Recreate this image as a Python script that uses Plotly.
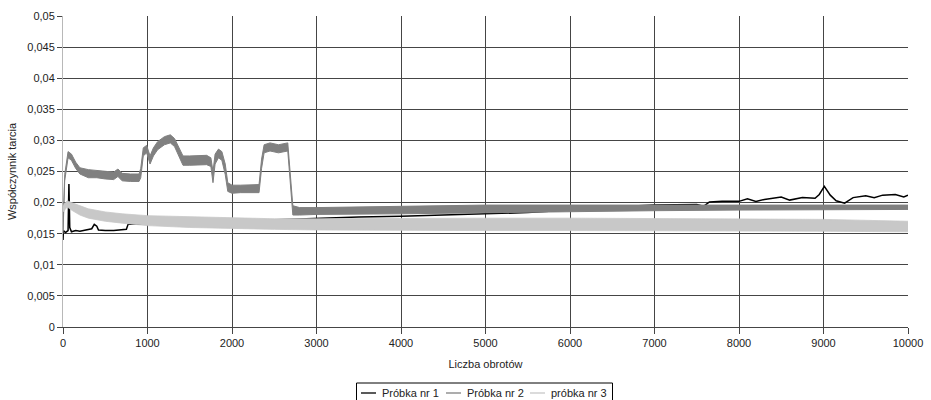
import plotly.graph_objects as go

# ---------------- data ----------------
# Próbka nr 1 (black line)
s1_x = [0, 5, 30, 60, 70, 80, 100, 150, 200, 250, 300, 340, 370, 400, 420, 500, 600, 700, 750, 770,
        900, 1000, 1200, 1400, 1600, 1800, 2000, 2200, 2500, 2800, 3000, 3500, 4000, 4500, 5000,
        5500, 6000, 6500, 7000, 7500, 7580, 7650, 7800, 8000, 8100, 8200, 8300, 8500, 8600, 8750,
        8900, 8950, 9010, 9080, 9150, 9250, 9350, 9500, 9600, 9700, 9850, 9950, 10000]
s1_y = [0.0140, 0.0155, 0.0152, 0.0155, 0.0230, 0.0160, 0.0153, 0.0155, 0.0154, 0.0155, 0.0156,
        0.0158, 0.0165, 0.0162, 0.0156, 0.0155, 0.0155, 0.0156, 0.0157, 0.0165,
        0.0165, 0.0166, 0.0166, 0.0167, 0.0167, 0.0169, 0.0170, 0.0170, 0.0172, 0.0174, 0.0175,
        0.0177, 0.0178, 0.0180, 0.0183, 0.0184, 0.0188, 0.0193, 0.0196, 0.0197, 0.0194, 0.0201,
        0.0202, 0.0202, 0.0206, 0.0202, 0.0205, 0.0209, 0.0204, 0.0208, 0.0207, 0.0213, 0.0226,
        0.0212, 0.0203, 0.0199, 0.0208, 0.0211, 0.0208, 0.0212, 0.0213, 0.0209, 0.0212]

# Próbka nr 2 (dark grey, noisy band: lower / upper edge)
s2_x = [0, 20, 60, 100, 150, 200, 300, 400, 500, 600, 650, 700, 800, 900, 920, 950, 990, 1030,
        1070, 1120, 1200, 1270, 1320, 1380, 1420, 1500, 1600, 1700, 1750, 1775, 1800, 1840, 1880,
        1920, 1950, 2000, 2100, 2200, 2320, 2350, 2380, 2450, 2550, 2660, 2690, 2720, 2800, 3000,
        4000, 5000, 6000, 7000, 8000, 9000, 10000]
s2_lo = [0.0150, 0.0235, 0.0272, 0.0268, 0.0255, 0.0246, 0.0240, 0.0240, 0.0238, 0.0237, 0.0242,
         0.0235, 0.0234, 0.0234, 0.0240, 0.0275, 0.0280, 0.0262, 0.0275, 0.0285, 0.0293, 0.0296,
         0.0290, 0.0272, 0.0260, 0.0260, 0.0261, 0.0261, 0.0258, 0.0232, 0.0262, 0.0272, 0.0268,
         0.0245, 0.0218, 0.0215, 0.0216, 0.0216, 0.0216, 0.0255, 0.0280, 0.0283, 0.0280, 0.0283,
         0.0230, 0.0180, 0.0180, 0.0181, 0.0182, 0.0184, 0.0186, 0.0187, 0.0188, 0.0189, 0.0189]
s2_hi = [0.0155, 0.0245, 0.0282, 0.0278, 0.0265, 0.0256, 0.0253, 0.0252, 0.0250, 0.0249, 0.0254,
         0.0247, 0.0246, 0.0246, 0.0255, 0.0288, 0.0292, 0.0275, 0.0288, 0.0298, 0.0306, 0.0309,
         0.0303, 0.0285, 0.0275, 0.0275, 0.0276, 0.0276, 0.0272, 0.0250, 0.0278, 0.0286, 0.0282,
         0.0262, 0.0232, 0.0228, 0.0228, 0.0228, 0.0229, 0.0270, 0.0293, 0.0296, 0.0293, 0.0296,
         0.0250, 0.0195, 0.0192, 0.0192, 0.0194, 0.0196, 0.0196, 0.0196, 0.0196, 0.0196, 0.0196]

# próbka nr 3 (light grey, noisy band: lower / upper edge)
s3_x = [0, 50, 100, 200, 300, 500, 700, 1000, 1500, 2000, 2500, 3000, 4000, 5000, 6000, 7000,
        8000, 9000, 10000]
s3_lo = [0.0185, 0.0193, 0.0188, 0.0180, 0.0175, 0.0170, 0.0167, 0.0163, 0.0160, 0.0158, 0.0157,
         0.0156, 0.0155, 0.0155, 0.0155, 0.0155, 0.0154, 0.0154, 0.0153]
s3_hi = [0.0195, 0.0203, 0.0200, 0.0195, 0.0190, 0.0185, 0.0182, 0.0179, 0.0177, 0.0175, 0.0174,
         0.0174, 0.0175, 0.0175, 0.0175, 0.0174, 0.0173, 0.0173, 0.0170]

series_names = ["Próbka nr 1", "Próbka nr 2", "próbka nr 3"]

x_ticks = [0, 1000, 2000, 3000, 4000, 5000, 6000, 7000, 8000, 9000, 10000]
x_ticklabels = ["0", "1000", "2000", "3000", "4000", "5000", "6000", "7000", "8000", "9000", "10000"]
y_ticks = [0, 0.005, 0.01, 0.015, 0.02, 0.025, 0.03, 0.035, 0.04, 0.045, 0.05]
y_ticklabels = ["0", "0,005", "0,01", "0,015", "0,02", "0,025", "0,03", "0,035", "0,04", "0,045", "0,05"]

x_title = "Liczba obrotów"
y_title = "Współczynnik tarcia"

# ---------------- figure ----------------
C1, C2, C3 = "#000000", "#808080", "#c8c8c8"
FONT = "Liberation Sans, Arial, sans-serif"
TXT = "#222222"

W, H = 931, 400
ML, MR, MT, MB = 63, 23, 16, 73
PW, PH = W - ML - MR, H - MT - MB


def px_x(px):
    return (px - ML) / PW


def px_y(py):
    return (H - MB - py) / PH


fig = go.Figure()

# series 1
fig.add_trace(go.Scatter(x=s1_x, y=s1_y, mode="lines", line=dict(color=C1, width=1.5),
                         showlegend=False, hoverinfo="skip"))
# series 2 band
fig.add_trace(go.Scatter(x=s2_x, y=s2_lo, mode="lines", line=dict(color=C2, width=1),
                         showlegend=False, hoverinfo="skip"))
fig.add_trace(go.Scatter(x=s2_x, y=s2_hi, mode="lines", line=dict(color=C2, width=1),
                         fill="tonexty", fillcolor=C2, showlegend=False, hoverinfo="skip"))
# series 3 band
fig.add_trace(go.Scatter(x=s3_x, y=s3_lo, mode="lines", line=dict(color=C3, width=0.8),
                         showlegend=False, hoverinfo="skip"))
fig.add_trace(go.Scatter(x=s3_x, y=s3_hi, mode="lines", line=dict(color=C3, width=0.8),
                         fill="tonexty", fillcolor=C3, showlegend=False, hoverinfo="skip"))

# ---- hand-built legend box (Excel style, short line samples) ----
shapes = [dict(type="rect", xref="paper", yref="paper",
               x0=px_x(356.5), x1=px_x(612.5), y0=px_y(383), y1=px_y(410),
               line=dict(color="#000000", width=1), fillcolor="white", layer="above")]
annotations = []
legend_line_x = [361, 446, 530]
legend_text_x = [380, 465, 549]
legend_cols = [C1, C2, C3]
ly = 393
for lx, tx, name, col in zip(legend_line_x, legend_text_x, series_names, legend_cols):
    shapes.append(dict(type="line", xref="paper", yref="paper",
                       x0=px_x(lx), x1=px_x(lx + 15), y0=px_y(ly), y1=px_y(ly),
                       line=dict(color=col, width=1.3), layer="above"))
    annotations.append(dict(xref="paper", yref="paper", x=px_x(tx), y=px_y(ly),
                            xanchor="left", yanchor="middle", showarrow=False,
                            text=name, font=dict(family=FONT, size=11, color=TXT)))

fig.update_layout(
    width=W, height=H,
    margin=dict(l=ML, r=MR, t=MT, b=MB, autoexpand=False),
    paper_bgcolor="white", plot_bgcolor="white",
    font=dict(family=FONT, size=11, color=TXT),
    showlegend=False,
    shapes=shapes,
    annotations=annotations,
    xaxis=dict(range=[0, 10000], tickvals=x_ticks, ticktext=x_ticklabels,
               showgrid=True, gridcolor="#454545", gridwidth=1, zeroline=False,
               showline=True, linecolor="#454545", linewidth=1,
               ticks="outside", ticklen=6, tickcolor="#454545",
               title=dict(text=x_title, font=dict(family=FONT, size=11, color=TXT), standoff=12)),
    yaxis=dict(range=[0, 0.05], tickvals=y_ticks, ticktext=y_ticklabels,
               showgrid=True, gridcolor="#454545", gridwidth=1, zeroline=False,
               showline=True, linecolor="#b8b8b8", linewidth=1,
               ticks="outside", ticklen=5, tickcolor="#454545",
               title=dict(text=y_title, font=dict(family=FONT, size=11, color=TXT), standoff=8)),
)

fig.write_html("out.html", config={"displayModeBar": False},
               post_script="document.body.style.margin='0';")
